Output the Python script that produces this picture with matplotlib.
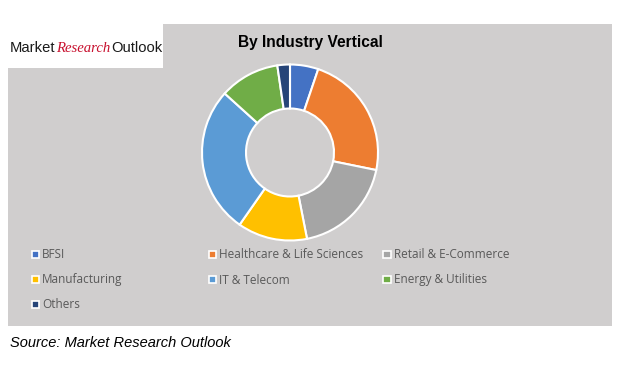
import matplotlib.pyplot as plt
from matplotlib.patches import Rectangle

W, H = 628, 368

segments = ["BFSI", "Healthcare & Life Sciences", "Retail & E-Commerce",
            "Manufacturing", "IT & Telecom", "Energy & Utilities", "Others"]
shares = [5.2, 23.0, 18.7, 12.8, 27.0, 11.0, 2.3]
colors = ["#4472C4", "#ED7D31", "#A5A5A5", "#FFC000", "#5B9BD5", "#70AD47", "#264478"]

bg = "#D0CECE"


def fx(px):
    return px / W


def fy(py):
    return 1 - py / H


fig = plt.figure(figsize=(W / 100, H / 100), dpi=100)
fig.patch.set_facecolor("white")
renderer = fig.canvas.get_renderer()

# grey chart panel and white logo box
fig.add_artist(Rectangle((fx(8), fy(326)), fx(604), 302 / H, transform=fig.transFigure,
                         facecolor=bg, edgecolor="none", zorder=0))
fig.add_artist(Rectangle((fx(8), fy(68)), fx(155), 44 / H, transform=fig.transFigure,
                         facecolor="white", edgecolor="none", zorder=1))

# logo: three words placed one after another, fitted into the white box
logo = [("Market", "#1a1a1a", "normal", ["Liberation Sans", "DejaVu Sans"], 1),
        ("Research", "#C8102E", "italic", ["Liberation Serif", "DejaVu Serif"], 1),
        ("Outlook", "#1a1a1a", "normal", ["Liberation Sans", "DejaVu Sans"], 0)]
size = 13.5
probe = [fig.text(0, 0, w, fontsize=size, family=f, style=s) for w, _, s, f, _ in logo]
total = sum(t.get_window_extent(renderer).width for t in probe) + 2
for t in probe:
    t.remove()
size = size * 152 / total
x = 10
for word, c, st, fam, gap in logo:
    t = fig.text(fx(x), fy(48), word, fontsize=size, family=fam, style=st,
                 color=c, va="center", ha="left", zorder=2)
    x += t.get_window_extent(renderer).width + gap

fig.text(fx(310), fy(43), "By Industry Vertical", fontsize=11.2, fontweight="bold",
         family=["Liberation Sans", "DejaVu Sans"], ha="center", va="center", color="black")

# donut
cx, cy, r = 290, 152.5, 88
ax = fig.add_axes([fx(cx - 90), fy(cy + 90), 180 / W, 180 / H])
ax.set_facecolor("none")
ax.pie(shares, colors=colors, startangle=90, counterclock=False, radius=1.0,
       wedgeprops=dict(width=0.5, edgecolor="white", linewidth=1.5))
ax.set_xlim(-90 / r, 90 / r)
ax.set_ylim(-90 / r, 90 / r)
ax.set_aspect("equal")
ax.axis("off")

# legend
col_x = [35, 212, 387]
row_y = [254, 279, 304]
for i, (name, c) in enumerate(zip(segments, colors)):
    x = col_x[i % 3]
    y = row_y[i // 3]
    fig.add_artist(Rectangle((fx(x - 3.5), fy(y + 3.5)), 7 / W, 7 / H, transform=fig.transFigure,
                             facecolor=c, edgecolor="white", linewidth=1.2, zorder=3))
    fig.text(fx(x + 7), fy(y + 1), name, fontsize=8.5, color="#595959",
             family=["Open Sans", "DejaVu Sans"], va="center", ha="left")

fig.text(fx(10), fy(343), "Source: Market Research Outlook", fontsize=10.5, style="italic",
         family=["Liberation Sans", "DejaVu Sans"], va="center", ha="left", color="black")

fig.savefig("out.png", dpi=100)
